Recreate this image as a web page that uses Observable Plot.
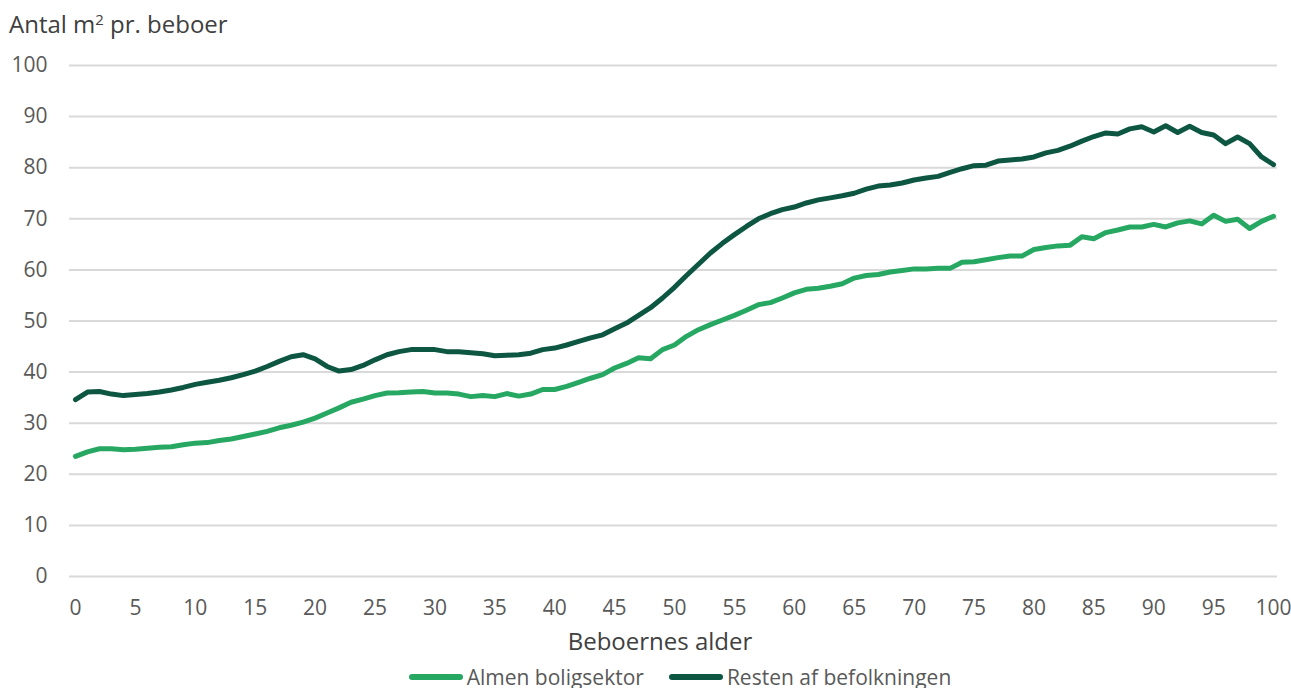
<!DOCTYPE html>
<html><head><meta charset="utf-8">
<script src="https://cdn.jsdelivr.net/npm/d3@7"></script>
<script src="https://cdn.jsdelivr.net/npm/@observablehq/plot@0.6"></script>
<style>
body{margin:0;background:#fff;font-family:"Open Sans",sans-serif;}
#title{box-sizing:border-box;height:46px;padding:10px 0 0 9px;font-size:24px;line-height:28px;color:#404040;}
#title sup{font-size:0.62em;line-height:0;vertical-align:0.55em;}
#xlabel{box-sizing:border-box;height:32px;padding:4px 0 0 29px;text-align:center;font-size:24px;line-height:28px;color:#404040;}
#legend{box-sizing:border-box;display:flex;justify-content:center;padding:8px 0 0 69px;font-size:21px;line-height:28px;color:#595959;gap:25px;}
.item{display:flex;align-items:center;}
.sw{display:inline-block;width:54px;height:6px;border-radius:3px;margin-right:4px;}
</style></head>
<body>
<div id="title">Antal m<sup>2</sup> pr. beboer</div>
<div id="chart"></div>
<div id="xlabel">Beboernes alder</div>
<div id="legend"></div>
<script>
const ages = d3.range(0, 101);
const almen = [23.5,24.4,25.0,25.0,24.8,24.9,25.1,25.3,25.4,25.8,26.1,26.2,26.6,26.9,27.4,27.9,28.4,29.1,29.6,30.2,
31.0,32.0,33.0,34.1,34.7,35.4,35.9,35.95,36.1,36.2,35.9,35.9,35.7,35.2,35.4,35.2,35.8,35.3,35.7,36.6,
36.6,37.2,38.0,38.8,39.5,40.8,41.7,42.8,42.6,44.4,45.3,47.0,48.3,49.3,50.2,51.1,52.1,53.2,53.6,54.5,
55.5,56.2,56.4,56.8,57.3,58.4,58.9,59.1,59.6,59.9,60.2,60.2,60.3,60.3,61.5,61.6,62.0,62.4,62.7,62.7,
64.0,64.4,64.7,64.8,66.5,66.1,67.3,67.8,68.4,68.4,68.9,68.4,69.2,69.6,69.0,70.7,69.5,69.9,68.1,69.5,70.5];
const resten = [34.6,36.1,36.2,35.7,35.4,35.6,35.8,36.1,36.5,37.0,37.6,38.0,38.4,38.9,39.5,40.2,41.1,42.1,43.0,43.4,
42.6,41.1,40.2,40.5,41.3,42.4,43.4,44.0,44.4,44.4,44.4,44.0,44.0,43.8,43.6,43.2,43.3,43.4,43.7,44.4,
44.7,45.3,46.0,46.7,47.3,48.5,49.6,51.1,52.6,54.5,56.6,58.9,61.1,63.3,65.2,66.9,68.5,70.0,71.0,71.8,
72.3,73.1,73.7,74.1,74.5,75.0,75.8,76.4,76.6,77.0,77.6,78.0,78.3,79.1,79.8,80.4,80.5,81.3,81.5,81.7,
82.1,82.9,83.4,84.2,85.2,86.1,86.8,86.6,87.6,88.0,87.0,88.2,86.9,88.1,86.9,86.4,84.7,86.0,84.7,82.1,80.6];
const seriesNames = ["Almen boligsektor", "Resten af befolkningen"];
const seriesColors = ["#27a862", "#0d5641"];
const xTicks = d3.range(0, 101, 5);
const yTicks = d3.range(0, 101, 10);

const rows = [];
ages.forEach((a, i) => {
  rows.push({age: a, value: almen[i], series: seriesNames[0]});
  rows.push({age: a, value: resten[i], series: seriesNames[1]});
});

const chart = Plot.plot({
  width: 1291,
  height: 577,
  marginLeft: 69,
  marginRight: 14,
  marginTop: 19,
  marginBottom: 47,
  style: {fontFamily: "Open Sans", fontSize: "21px", color: "#595959", background: "#fff"},
  x: {domain: [-0.5, 100.33]},
  y: {domain: [0, 100]},
  color: {domain: seriesNames, range: seriesColors},
  marks: [
    Plot.ruleY(yTicks, {stroke: "#d9d9d9", strokeWidth: 2}),
    Plot.axisY(yTicks, {tickSize: 0, tickPadding: 22, label: null, fill: "#595959"}),
    Plot.axisX(xTicks, {tickSize: 0, tickPadding: 24, label: null, fill: "#595959"}),
    Plot.line(rows, {x: "age", y: "value", z: "series", stroke: "series", strokeWidth: 5, strokeLinejoin: "round", strokeLinecap: "round"})
  ]
});
document.getElementById("chart").appendChild(chart);

const lg = document.getElementById("legend");
seriesNames.forEach((n, i) => {
  const it = document.createElement("div");
  it.className = "item";
  const sw = document.createElement("span");
  sw.className = "sw";
  sw.style.background = seriesColors[i];
  it.appendChild(sw);
  it.appendChild(document.createTextNode(n));
  lg.appendChild(it);
});
</script>
</body></html>
